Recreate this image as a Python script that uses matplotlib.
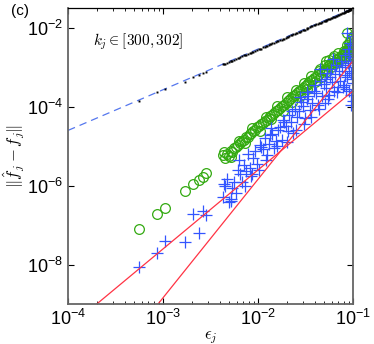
import numpy as np
import matplotlib
matplotlib.use("Agg")
import matplotlib.pyplot as plt
from matplotlib.ticker import LogLocator, NullLocator

plt.rcParams['font.family'] = ['Liberation Sans', 'DejaVu Sans']
plt.rcParams['mathtext.fontset'] = 'cm'

# log10 of epsilon_j, and log10 of the errors
eps_log = [-3.25, -3.06, -2.98, -2.77, -2.69, -2.62, -2.58, -2.55,
           -2.37, -2.35, -2.33, -2.31, -2.29, -2.27, -2.25, -2.23, -2.21, -2.19,
           -2.17, -2.15, -2.13, -2.11, -2.09, -2.07, -2.05, -2.03, -2.01, -1.99,
           -1.97, -1.95, -1.93, -1.91, -1.89, -1.87, -1.85, -1.83, -1.81, -1.79,
           -1.77, -1.75, -1.73, -1.71, -1.69, -1.67, -1.65, -1.63, -1.61, -1.59,
           -1.57, -1.55, -1.53, -1.51, -1.49, -1.47, -1.45, -1.43, -1.41, -1.39,
           -1.37, -1.35, -1.33, -1.31, -1.29, -1.28, -1.26, -1.24, -1.22, -1.21,
           -1.19, -1.17, -1.15, -1.14, -1.12, -1.11, -1.09, -1.08, -1.07, -1.06,
           -1.05, -1.04, -1.03, -1.02, -1.01, -1.00, -1.00, -1.01,
           -2.36, -2.28, -2.20, -2.14, -2.06, -1.98, -1.92, -1.86, -1.80, -1.74,
           -1.70, -1.64, -1.60, -1.56, -1.52, -1.48, -1.44, -1.40, -1.36, -1.34,
           -1.30, -1.27, -1.25, -1.23, -1.20, -1.18, -1.16, -1.13, -1.10, -1.08,
           -1.06, -1.05, -1.04, -1.03, -1.02, -1.01, -1.00, -1.00, -1.02, -1.04]
green_log = [-7.11, -6.71, -6.56, -6.13, -5.97, -5.85, -5.77, -5.69,
             -5.22, -5.30, -5.19, -5.25, -5.12, -5.16, -5.05, -5.02, -4.98, -4.93,
             -4.86, -4.84, -4.78, -4.76, -4.70, -4.66, -4.61, -4.58, -4.52, -4.50,
             -4.43, -4.42, -4.37, -4.33, -4.30, -4.24, -4.20, -4.16, -4.10, -4.08,
             -4.03, -3.99, -3.95, -3.90, -3.86, -3.82, -3.78, -3.74, -3.70, -3.66,
             -3.60, -3.57, -3.52, -3.48, -3.45, -3.40, -3.36, -3.33, -3.27, -3.24,
             -3.20, -3.05, -3.12, -3.08, -3.04, -2.85, -2.98, -2.93, -2.90, -2.78,
             -2.86, -2.80, -2.76, -2.74, -2.70, -2.68, -2.63, -2.62, -2.58, -2.13,
             -2.56, -2.52, -2.33, -2.50, -2.55, -2.47, -2.56, -2.48,
             -5.15, -5.28, -4.88, -4.92, -4.55, -4.62, -4.25, -4.32, -3.98, -4.10,
             -3.75, -3.88, -3.58, -3.72, -3.40, -3.55, -3.22, -3.38, -3.10, -3.25,
             -2.95, -3.10, -2.82, -3.00, -2.72, -2.90, -2.65, -2.80, -2.58, -2.75,
             -2.45, -2.68, -2.40, -2.62, -2.28, -2.70, -2.38, -2.20, -2.60, -2.50]
blue_log = [-8.05, -7.70, -7.39, -7.42, -6.71, -7.19, -6.63, -6.75,
            -6.30, -6.02, -5.82, -6.42, -6.38, -6.05, -5.90, -6.18, -5.60, -5.70,
            -5.92, -5.48, -5.62, -5.20, -5.55, -5.76, -5.30, -5.12, -5.45, -5.60,
            -5.02, -5.08, -4.80, -5.22, -4.95, -4.72, -4.70, -5.05, -4.88, -4.60,
            -4.52, -4.85, -4.40, -4.48, -4.62, -4.20, -4.38, -4.68, -4.05, -4.25,
            -4.12, -3.88, -3.98, -4.30, -3.80, -3.72, -4.08, -3.92, -3.60, -3.66,
            -3.95, -3.05, -3.72, -3.42, -3.52, -3.30, -3.80, -3.25, -3.38, -2.80,
            -3.18, -3.62, -3.10, -3.35, -3.00, -3.50, -2.95, -3.20, -3.55, -2.13,
            -2.90, -3.10, -2.40, -3.70, -2.75, -3.85, -3.00, -3.30,
            -5.95, -6.35, -5.35, -6.00, -5.70, -4.98, -5.35, -4.55, -5.00, -4.35,
            -4.90, -4.10, -4.60, -3.75, -4.45, -3.62, -4.25, -3.45, -4.05, -3.35,
            -3.90, -3.15, -3.70, -3.05, -3.60, -2.95, -3.50, -2.85, -3.45, -2.70,
            -3.25, -2.55, -3.60, -2.85, -3.15, -2.45, -3.40, -2.20, -3.95, -2.65]
black_log = [-3.85, -3.64, -3.56, -3.37, -3.26, -3.19, -3.15, -3.12,
             -2.93, -2.91, -2.89, -2.87, -2.85, -2.84, -2.81, -2.79, -2.77, -2.75,
             -2.73, -2.70, -2.69, -2.67, -2.64, -2.63, -2.61, -2.59, -2.56, -2.55,
             -2.53, -2.50, -2.48, -2.46, -2.44, -2.42, -2.40, -2.38, -2.36, -2.34,
             -2.32, -2.30, -2.28, -2.26, -2.24, -2.21, -2.19, -2.17, -2.15, -2.13,
             -2.11, -2.09, -2.07, -2.05, -2.03, -2.01, -1.99, -1.96, -1.94, -1.92,
             -1.90, -1.88, -1.86, -1.84, -1.82, -1.81, -1.79, -1.77, -1.75, -1.74,
             -1.72, -1.70, -1.67, -1.66, -1.64, -1.63, -1.61, -1.60, -1.59, -1.58,
             -1.57, -1.56, -1.55, -1.54, -1.53, -1.52, -1.52, -1.53,
             -2.92, -2.84, -2.76, -2.70, -2.62, -2.53, -2.47, -2.41, -2.35, -2.28,
             -2.24, -2.18, -2.14, -2.10, -2.06, -2.01, -1.97, -1.93, -1.89, -1.87,
             -1.83, -1.80, -1.78, -1.76, -1.73, -1.71, -1.68, -1.65, -1.62, -1.60,
             -1.58, -1.57, -1.56, -1.55, -1.54, -1.53, -1.52, -1.52, -1.54, -1.56]

# reference lines: y = c * eps^p
dash_c, dash_p = 0.33, 1.03
red1_c, red1_p = 0.025, 2
red2_c, red2_p = 1.45, 3

eps = 10.0 ** np.array(eps_log)
green = 10.0 ** np.array(green_log)
blue = 10.0 ** np.array(blue_log)
black = 10.0 ** np.array(black_log)

fig = plt.figure(figsize=(3.74, 3.44), dpi=100)
ax = fig.add_axes([0.182, 0.116, 0.762, 0.861])

xx = np.logspace(-4, -1, 200)
ax.loglog(xx, dash_c * xx ** dash_p, '--', color='#5577ee', lw=0.9, dashes=(6, 4))
ax.loglog(eps, black, 's', color='black', ms=1.4, mew=0)
ax.loglog(eps, green, 'o', mfc='none', mec='#33aa11', ms=7, mew=0.9)
ax.loglog(eps, blue, '+', color='#3355ff', ms=8, mew=0.9)
ax.loglog(xx, red1_c * xx ** red1_p, '-', color='#ff3344', lw=0.9)
ax.loglog(xx, red2_c * xx ** red2_p, '-', color='#ff3344', lw=0.9)

ax.set_xlim(1e-4, 1e-1)
ax.set_ylim(1e-9, 10 ** -1.5)
ax.xaxis.set_major_locator(LogLocator(base=10, numticks=10))
ax.xaxis.set_minor_locator(LogLocator(base=10, subs=np.arange(2, 10), numticks=20))
ax.yaxis.set_major_locator(LogLocator(base=100, numticks=10))
ax.yaxis.set_minor_locator(NullLocator())
ax.tick_params(which='both', direction='in', top=True, right=True, labelsize=13)
ax.tick_params(which='major', length=4)
ax.tick_params(which='minor', length=2)
for s in ['left', 'bottom', 'right']:
    ax.spines[s].set_color('#666666')
    ax.spines[s].set_linewidth(1.3)
ax.spines['top'].set_linewidth(0.9)

ax.set_xlabel(r'$\epsilon_j$', fontsize=12, labelpad=0)
ax.set_ylabel(r'$\|\hat{f}_j - f_j\|$', fontsize=12, labelpad=0)
ax.text(0.088, 0.875, r'$k_j \in [300, 302]$', transform=ax.transAxes, fontsize=11)
fig.text(0.03, 0.955, '(c)', fontsize=11)

fig.savefig('out.png', dpi=100)
